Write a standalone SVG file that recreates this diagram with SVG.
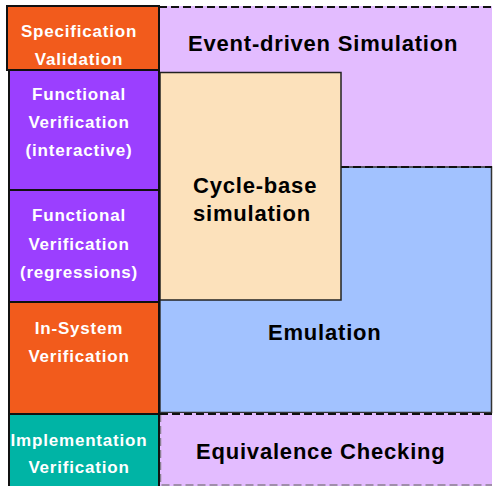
<svg xmlns="http://www.w3.org/2000/svg" width="493" height="486" viewBox="0 0 493 486">
  <style>
    .stage { stroke: #111; stroke-width: 2; }
    .stage-label { font-family: "Liberation Sans", Arial, sans-serif; font-weight: bold; font-size: 17px; letter-spacing: 0.8px; fill: #fff; text-anchor: middle; }
    .tech-label { font-family: "Liberation Sans", Arial, sans-serif; font-weight: bold; font-size: 22px; letter-spacing: 0.8px; fill: #000; }
    .orange { fill: #F25B1C; }
    .purple { fill: #9B3FFF; }
    .teal { fill: #00B4A5; }
    .lavender { fill: #E3BCFF; }
    .peach { fill: #FCE1BB; }
    .blue { fill: #A2C2FF; }
    .dash-dark { fill: none; stroke: #111; stroke-width: 2; stroke-dasharray: 8 4; }
    .dash-grey { fill: none; stroke: #8a7f90; stroke-width: 1.5; stroke-dasharray: 8 4; }
  </style>

  <rect width="493" height="486" fill="#fff"/>

  <!-- verification techniques (right side) -->
  <g id="event-driven-simulation">
    <rect class="lavender" x="159" y="6" width="333" height="161"/>
    <line class="dash-dark" x1="159" y1="7" x2="492" y2="7"/>
    <text class="tech-label" x="188" y="51">Event-driven Simulation</text>
  </g>

  <g id="emulation">
    <rect class="blue" x="160" y="167" width="331.5" height="245.5" stroke="#333" stroke-width="1.5"/>
    <line class="dash-dark" x1="341" y1="167" x2="492" y2="167"/>
    <text class="tech-label" x="268" y="340">Emulation</text>
  </g>

  <g id="cycle-base-simulation">
    <rect class="peach" x="160" y="72.5" width="181" height="227.5" stroke="#222" stroke-width="1.5"/>
    <text class="tech-label" x="193" y="193">Cycle-base</text>
    <text class="tech-label" x="193" y="221">simulation</text>
  </g>

  <g id="equivalence-checking">
    <rect class="lavender" x="160" y="413" width="332" height="73"/>
    <path class="dash-grey" d="M160.5 414 V485 H492"/>
    <line class="dash-dark" x1="160" y1="414" x2="492" y2="414"/>
    <text class="tech-label" x="196" y="459">Equivalence Checking</text>
  </g>

  <!-- verification stages (left column) -->
  <g id="specification-validation">
    <rect class="orange stage" x="7" y="6" width="152" height="64"/>
    <text class="stage-label" x="79" y="37">Specification</text>
    <text class="stage-label" x="79" y="65">Validation</text>
  </g>

  <g id="functional-verification-interactive">
    <rect class="purple stage" x="9" y="70" width="150" height="120"/>
    <text class="stage-label" x="79" y="100">Functional</text>
    <text class="stage-label" x="79" y="128">Verification</text>
    <text class="stage-label" x="79" y="156">(interactive)</text>
  </g>

  <g id="functional-verification-regressions">
    <rect class="purple stage" x="9" y="190" width="150" height="112"/>
    <text class="stage-label" x="79" y="221">Functional</text>
    <text class="stage-label" x="79" y="250">Verification</text>
    <text class="stage-label" x="79" y="278">(regressions)</text>
  </g>

  <g id="in-system-verification">
    <rect class="orange stage" x="9" y="302" width="150" height="112"/>
    <text class="stage-label" x="79" y="334">In-System</text>
    <text class="stage-label" x="79" y="362">Verification</text>
  </g>

  <g id="implementation-verification">
    <rect class="teal stage" x="9" y="414" width="150" height="74"/>
    <text class="stage-label" x="79" y="446">Implementation</text>
    <text class="stage-label" x="79" y="473">Verification</text>
  </g>
</svg>
